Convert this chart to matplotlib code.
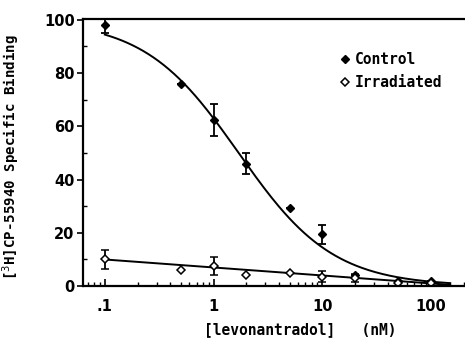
import numpy as np
import matplotlib
matplotlib.use("Agg")
import matplotlib.pyplot as plt
from matplotlib.ticker import FixedLocator, NullFormatter, LogLocator

# ── Data ──────────────────────────────────────────────────────────────────────
conc = [0.1, 0.5, 1, 2, 5, 10, 20, 50, 100]          # levonantradol, nM
control = [98, 76, 62.5, 46, 29.5, 19.5, 4, 2, 2]
control_err = [3, 0, 6, 4, 0, 3.5, 0, 0, 0]
irradiated = [10, 6, 7.5, 4, 5, 3.5, 3, 1, 1]
irradiated_err = [3.5, 0, 3.5, 0, 0, 2, 1.5, 0, 0]

# fitted curve parameters
ctrl_top, ctrl_ic50, ctrl_hill = 100.0, 1.7, 1.0
irr_at_01, irr_slope = 10.0, -3.0                       # per decade
curve_range = (0.1, 150)

FONT = "DejaVu Sans Mono"

fig = plt.figure(figsize=(4.65, 3.39), dpi=100)
ax = fig.add_axes([0.1785, 0.156, 0.8215, 0.788])

xc = np.logspace(np.log10(curve_range[0]), np.log10(curve_range[1]), 200)
ax.plot(xc, ctrl_top / (1 + (xc / ctrl_ic50) ** ctrl_hill), color="black", lw=1.4)
ax.plot(xc, np.clip(irr_at_01 + irr_slope * (np.log10(xc) + 1), 0.4, None),
        color="black", lw=1.4)

ax.errorbar(conc, control, yerr=control_err, fmt="D", ms=4.5, color="black",
            mfc="black", ecolor="black", elinewidth=1.3, capsize=3, capthick=1.3,
            label="Control")
ax.errorbar(conc, irradiated, yerr=irradiated_err, fmt="D", ms=4.5, color="black",
            mfc="white", mew=1.1, ecolor="black", elinewidth=1.3, capsize=3,
            capthick=1.3, label="Irradiated")

ax.set_xscale("log")
ax.set_xlim(0.063, 205)
ax.set_ylim(0, 100.3)

ax.xaxis.set_major_locator(FixedLocator([0.1, 1, 10, 100]))
ax.set_xticklabels([".1", "1", "10", "100"])
ax.xaxis.set_minor_locator(LogLocator(base=10, subs=np.arange(2, 10)))
ax.xaxis.set_minor_formatter(NullFormatter())
ax.set_yticks([0, 20, 40, 60, 80, 100])
ax.yaxis.set_minor_locator(FixedLocator([10, 30, 50, 70, 90]))

ax.tick_params(axis="x", which="major", direction="in", length=5, width=1.2,
               labelsize=10.5, pad=9)
ax.tick_params(axis="x", which="minor", direction="in", length=3, width=1)
ax.tick_params(axis="y", which="major", direction="out", length=4, width=1.2,
               labelsize=10.5, pad=2)
ax.tick_params(axis="y", which="minor", direction="in", length=3, width=1)
for lbl in ax.get_xticklabels() + ax.get_yticklabels():
    lbl.set_fontweight("semibold")

for side in ("left", "bottom", "top"):
    ax.spines[side].set_linewidth(1.6)
ax.spines["right"].set_visible(False)

ax.set_ylabel(r"[$^{3}$H]CP-55940 Specific Binding", fontsize=10.2,
              family=FONT, fontweight="semibold")
ax.yaxis.set_label_coords(-0.16, 0.485)
ax.set_xlabel("[levonantradol]   (nM)", fontsize=10.5, fontweight="bold",
              family=FONT)
ax.xaxis.set_label_coords(0.57, -0.135)

handles, labels = ax.get_legend_handles_labels()
handles = [h[0] for h in handles]
ax.legend(handles, labels, loc="upper right", bbox_to_anchor=(0.975, 0.925),
          frameon=False, handlelength=0.6, handletextpad=0.4, labelspacing=0.55,
          prop={"family": FONT, "weight": "bold", "size": 10.5})

fig.savefig("out.png", dpi=100)
